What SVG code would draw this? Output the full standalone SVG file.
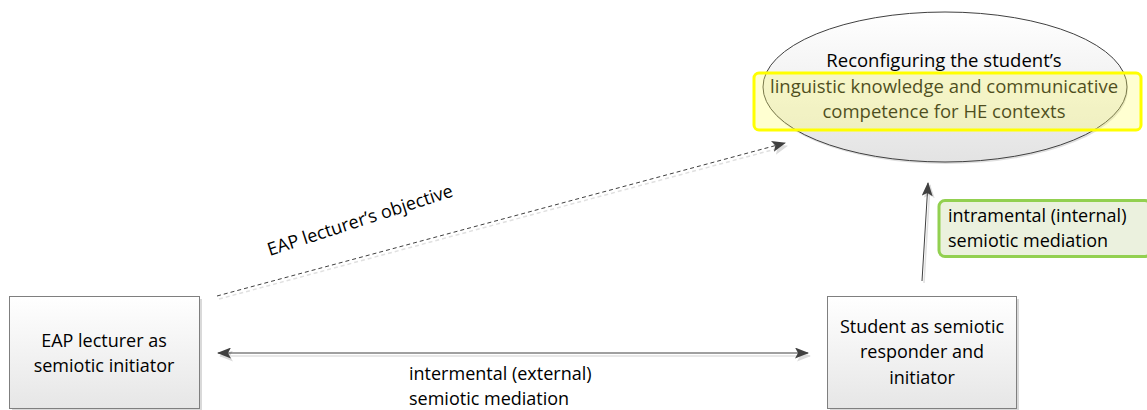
<svg xmlns="http://www.w3.org/2000/svg" width="1147" height="410" viewBox="0 0 1147 410">
<defs>
<linearGradient id="gBox" x1="0" y1="0" x2="0" y2="1">
<stop offset="0" stop-color="#ffffff"/><stop offset="1" stop-color="#e6e6e6"/>
</linearGradient>
<linearGradient id="gEll" x1="0" y1="0" x2="0" y2="1">
<stop offset="0" stop-color="#ffffff"/><stop offset="1" stop-color="#e3e3e3"/>
</linearGradient>
<marker id="ah" viewBox="0 0 14 11" refX="13" refY="5.5" markerWidth="14" markerHeight="11" markerUnits="userSpaceOnUse" orient="auto-start-reverse">
<path d="M0,0 L14,5.5 L0,11 L3,5.5 Z" fill="#404040"/>
</marker>
<marker id="ahs" viewBox="0 0 14 11" refX="13" refY="5.5" markerWidth="14" markerHeight="11" markerUnits="userSpaceOnUse" orient="auto-start-reverse">
<path d="M0,0 L14,5.5 L0,11 L3,5.5 Z" fill="#dcdcdc"/>
</marker>
</defs>
<style>
text{font-family:"Open Sans","Liberation Sans",sans-serif;font-size:18px;fill:#000}
.c{text-anchor:middle}
.big{font-size:18.5px}
.box{fill:url(#gBox);stroke:#7f7f7f;stroke-width:1}
.sh{fill:#d9d9d9}
.ln{stroke:#404040;stroke-width:1;fill:none}
.lns{stroke:#e0e0e0;stroke-width:1.5;fill:none}
</style>

<g id="connectors">
<line class="lns" x1="219" y1="299" x2="787" y2="146" stroke-dasharray="4 3" marker-end="url(#ahs)"/>
<line class="ln" x1="217" y1="296" x2="785" y2="143" stroke-dasharray="4 3" marker-end="url(#ah)"/>
<text transform="translate(362,226) rotate(-18)" class="c">EAP lecturer’s objective</text>
<line class="lns" x1="220" y1="356" x2="810" y2="356" marker-start="url(#ahs)" marker-end="url(#ahs)"/>
<line class="ln" x1="218" y1="353" x2="808" y2="353" marker-start="url(#ah)" marker-end="url(#ah)"/>
<text x="409" y="380">intermental (external)</text>
<text x="409" y="405">semiotic mediation</text>
<line class="lns" x1="924" y1="283" x2="930" y2="185" marker-end="url(#ahs)"/>
<line class="ln" x1="922" y1="281" x2="928" y2="183" marker-end="url(#ah)"/>
</g>

<g id="node-objective">
<ellipse cx="946" cy="89" rx="182" ry="75" fill="#e0e0e0"/>
<ellipse cx="945" cy="87" rx="182" ry="75" fill="url(#gEll)" stroke="#404040" stroke-width="1"/>
<text x="944" y="67" class="c big">Reconfiguring the student’s</text>
<text x="944" y="93" class="c big" fill="#2a2a08">linguistic knowledge and communicative</text>
<text x="944" y="118" class="c big" fill="#2a2a08">competence for HE contexts</text>
<rect x="754" y="73" width="387" height="57" rx="5" fill="#ffff66" fill-opacity="0.3" stroke="#ffff00" stroke-width="3"/>
</g>

<g id="node-lecturer">
<rect class="sh" x="12" y="299" width="190" height="112"/>
<rect class="box" x="9.5" y="296.5" width="190" height="112"/>
<text x="104" y="347" class="c">EAP lecturer as</text>
<text x="104" y="372" class="c">semiotic initiator</text>
</g>

<g id="node-student">
<rect class="sh" x="830" y="299" width="189" height="112"/>
<rect class="box" x="827.5" y="296.5" width="189" height="112"/>
<text x="922" y="333" class="c">Student as semiotic</text>
<text x="922" y="358" class="c">responder and</text>
<text x="922" y="384" class="c">initiator</text>
</g>

<g id="node-intramental">
<rect x="939" y="200.5" width="212" height="56" rx="6" fill="#ebf1de" stroke="#92d050" stroke-width="3"/>
<text x="948" y="222">intramental (internal)</text>
<text x="948" y="247">semiotic mediation</text>
</g>
</svg>
